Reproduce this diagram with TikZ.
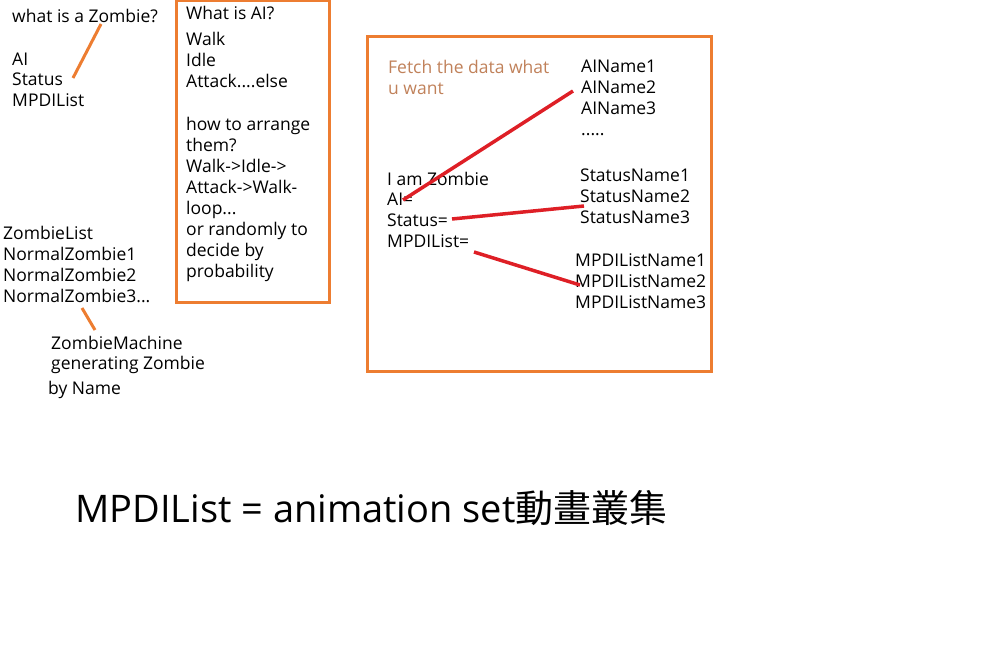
\documentclass[tikz,border=0pt]{standalone}
\usepackage{fontspec}
\setmainfont{Open Sans}
\newfontfamily\cjk{Noto Sans CJK TC}
\definecolor{boxorange}{HTML}{ED7D31}
\definecolor{linered}{HTML}{DE1F26}
\definecolor{brownish}{HTML}{C0815A}
\begin{document}
\begin{tikzpicture}[x=1pt,y=-1pt,
  t/.style={anchor=base west, inner sep=0pt, font=\fontsize{17.5}{21}\selectfont},
  frame/.style={draw=boxorange, line width=3pt},
  olink/.style={draw=boxorange, line width=3pt},
  rlink/.style={draw=linered, line width=3.5pt}]
\useasboundingbox (0,0) rectangle (1005,655);
% top-left list
\node[t] (q) at (12,23) {what is a Zombie?};
\node[t] (ai) at (12,66) {AI};
\node[t] (st) at (12,86) {Status};
\node[t] (mp) at (12,107) {MPDIList};
\coordinate (qa) at (101,24);
\coordinate (qb) at (73,78);
\draw[olink] (qa) -- (qb);
% AI box
\draw[frame] (176,1) rectangle (329,303);
\node[t] at (186,20) {What is AI?};
\node[t] at (186,46) {Walk};
\node[t] at (186,67) {Idle};
\node[t] at (186,88) {Attack....else};
\node[t] at (186,131) {how to arrange};
\node[t] at (186,152) {them?};
\node[t] at (186,173) {Walk->Idle->};
\node[t] at (186,194) {Attack->Walk-};
\node[t] at (186,215) {loop...};
\node[t] at (186,236) {or randomly to};
\node[t] at (186,257) {decide by};
\node[t] at (186,278) {probability};
% zombie list
\node[t] (zl) at (3,240) {ZombieList};
\node[t] (z1) at (3,261) {NormalZombie1};
\node[t] (z2) at (3,282) {NormalZombie2};
\node[t] (z3) at (3,303) {NormalZombie3...};
\node[t] (zm) at (51,349) {ZombieMachine};
\node[t] (zg) at (51,370) {generating Zombie};
\node[t] (zn) at (48,395) {by Name};
\coordinate (za) at (82,308);
\coordinate (zb) at (95,330);
\draw[olink] (za) -- (zb);
% fetch box
\draw[frame] (367,37) rectangle (711,371);
\node[t, text=brownish] at (388,74) {Fetch the data what};
\node[t, text=brownish] at (388,95) {u want};
\node[t] (an1) at (581,73) {AIName1};
\node[t] (an2) at (581,94) {AIName2};
\node[t] (an3) at (581,115) {AIName3};
\node[t] at (581,136) {.....};
\node[t] (iz) at (387,186) {I am Zombie};
\node[t] (aieq) at (387,206) {AI=};
\node[t] (steq) at (387,227) {Status=};
\node[t] (mpeq) at (387,248) {MPDIList=};
\node[t] (sn1) at (580,182) {StatusName1};
\node[t] (sn2) at (580,203) {StatusName2};
\node[t] (sn3) at (580,224) {StatusName3};
\node[t] (mn1) at (575,267) {MPDIListName1};
\node[t] (mn2) at (575,288) {MPDIListName2};
\node[t] (mn3) at (575,309) {MPDIListName3};
\coordinate (r1a) at (573,91);
\coordinate (r1b) at (403,200);
\coordinate (r2a) at (452,219);
\coordinate (r2b) at (584,206);
\coordinate (r3a) at (474,252);
\coordinate (r3b) at (580,285);
\draw[rlink] (r1a) -- (r1b);
\draw[rlink] (r2a) -- (r2b);
\draw[rlink] (r3a) -- (r3b);
% bottom caption
\node[anchor=base west, inner sep=0pt, font=\fontsize{38}{44}\selectfont] (cap) at (75,522) {MPDIList = animation set{\cjk 動畫叢集}};
\end{tikzpicture}
\end{document}
